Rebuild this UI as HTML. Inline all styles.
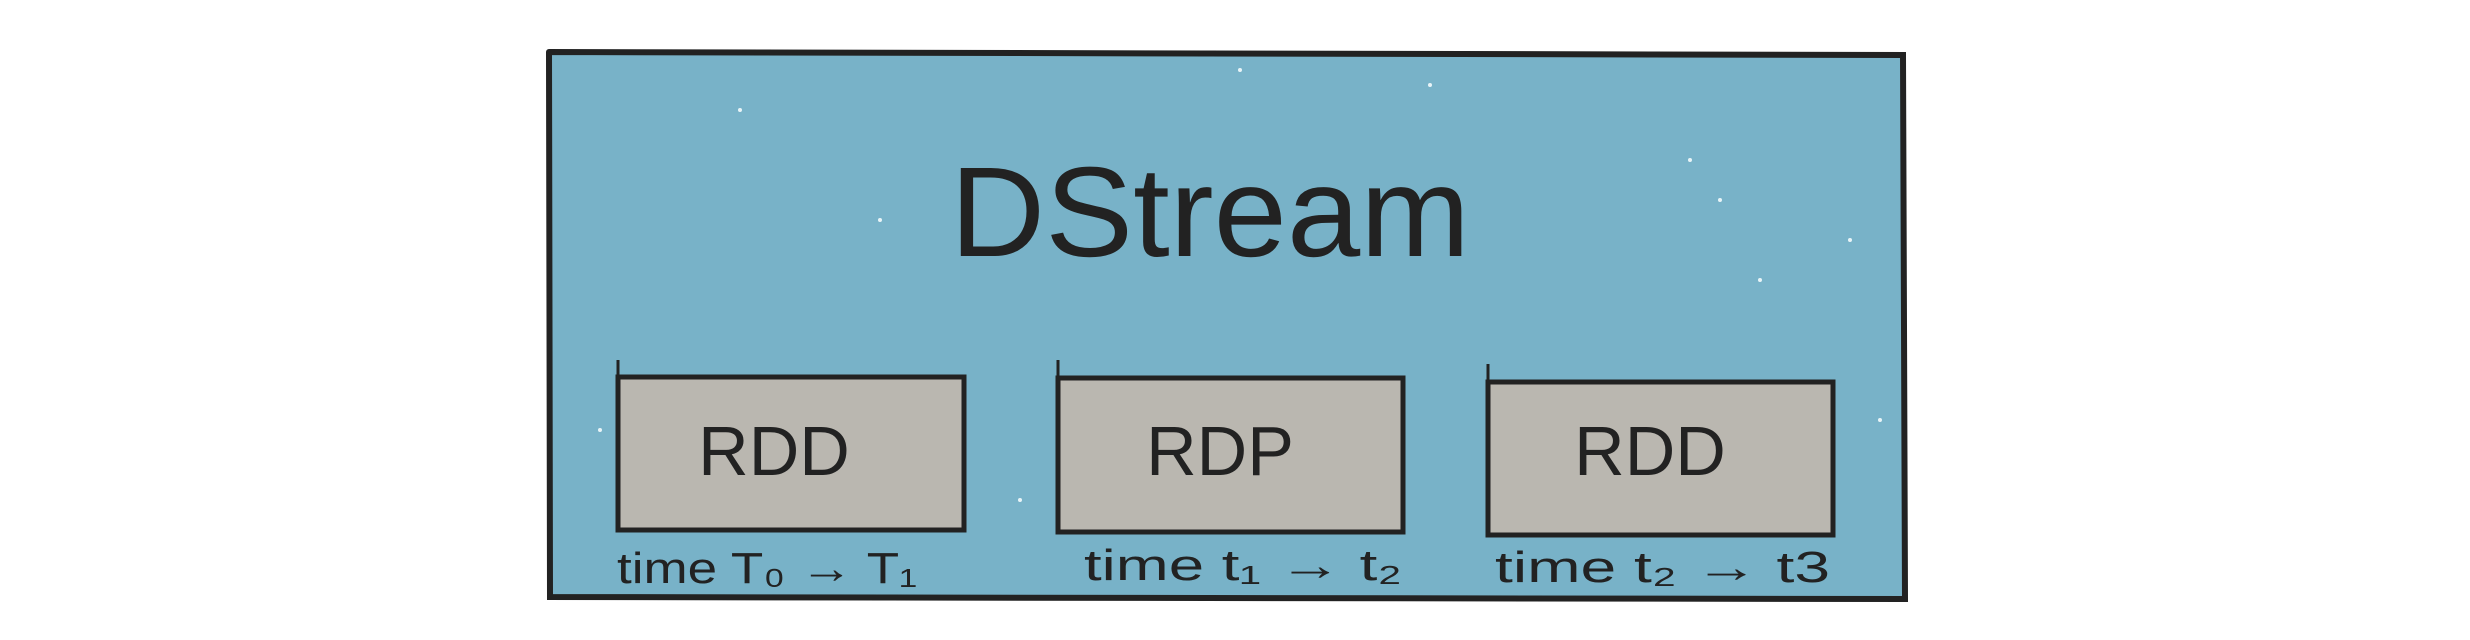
<!DOCTYPE html>
<html><head><style>
html,body{margin:0;padding:0;background:#fff;}
body{width:2470px;height:640px;position:relative;overflow:hidden;font-family:"Liberation Sans",sans-serif;}
</style></head><body>
<svg width="2470" height="640" viewBox="0 0 2470 640" xmlns="http://www.w3.org/2000/svg" style="position:absolute;left:0;top:0">
<polygon points="549,54 1903,56 1905,598 550,596" fill="#78b2c8"/>
<g fill="#e8f4f8">
<circle cx="740" cy="110" r="2"/><circle cx="1240" cy="70" r="2"/><circle cx="1430" cy="85" r="2"/><circle cx="1690" cy="160" r="2"/><circle cx="1720" cy="200" r="2"/><circle cx="880" cy="220" r="2"/><circle cx="1850" cy="240" r="2"/><circle cx="600" cy="430" r="2"/><circle cx="1760" cy="280" r="2"/><circle cx="1020" cy="500" r="2"/><circle cx="1380" cy="470" r="2"/><circle cx="1880" cy="420" r="2"/>
</g>
<g stroke="#222" stroke-width="6" fill="none" stroke-linecap="round">
<polyline points="549,52 1903,55 1905,599 550,597 549,52"/>
</g>
<g stroke="#222" stroke-width="5" fill="#bab7b0">
<rect x="618" y="377" width="346" height="153"/>
<rect x="1058" y="378" width="345" height="154"/>
<rect x="1488" y="382" width="345" height="153"/>
</g>
<g stroke="#222" stroke-width="3">
<line x1="618" y1="360" x2="618" y2="377"/>
<line x1="1058" y1="360" x2="1058" y2="378"/>
<line x1="1488" y1="364" x2="1488" y2="382"/>
</g>
<g fill="#222" font-family="Liberation Sans, sans-serif">
<text x="1210" y="256" font-size="128" text-anchor="middle" textLength="520" lengthAdjust="spacingAndGlyphs">DStream</text>
<text x="774" y="475" font-size="70" text-anchor="middle">RDD</text>
<text x="1220" y="475" font-size="70" text-anchor="middle">RDP</text>
<text x="1650" y="475" font-size="70" text-anchor="middle">RDD</text>
<text x="617" y="583" font-size="44" textLength="300" lengthAdjust="spacingAndGlyphs">time T₀ → T₁</text>
<text x="1084" y="580" font-size="44" textLength="318" lengthAdjust="spacingAndGlyphs">time t₁ → t₂</text>
<text x="1495" y="582" font-size="44" textLength="335" lengthAdjust="spacingAndGlyphs">time t₂ → t3</text>
</g>
</svg>
</body></html>
